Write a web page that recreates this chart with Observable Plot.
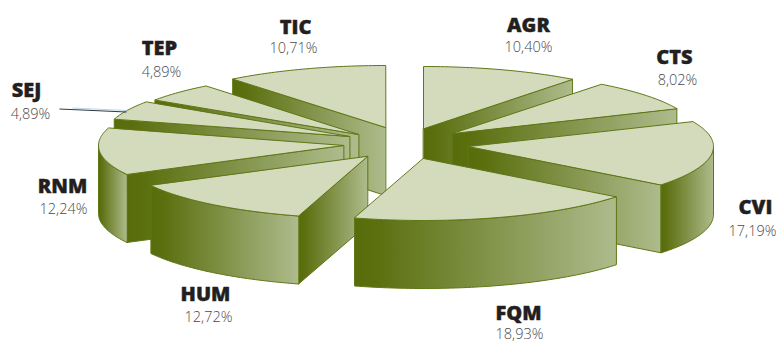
<!DOCTYPE html>
<html>
<head>
<meta charset="utf-8">
<script src="https://cdn.jsdelivr.net/npm/d3@7"></script>
<script src="https://cdn.jsdelivr.net/npm/@observablehq/plot@0.6"></script>
<style>
html,body{margin:0;padding:0;background:#fff}
svg{display:block}
</style>
</head>
<body>
<div id="chart"></div>
<script>
// Data: clockwise from 12 o'clock
const areas  = ["AGR","CTS","CVI","FQM","HUM","RNM","SEJ","TEP","TIC"];
const shares = [10.40, 8.02, 17.19, 18.93, 12.72, 12.24, 4.89, 4.89, 10.71];
const shareLabels = ["10,40%","8,02%","17,19%","18,93%","12,72%","12,24%","4,89%","4,89%","10,71%"];

// Layout (exploded slice centres, label anchors), separate from the data
const apexX  = [423, 452, 468, 423, 367, 343, 349, 358, 385];
const apexY  = [128, 133, 146, 158, 156, 145, 136, 134, 127];
const nameX  = [528, 674, 755, 518, 205, 62, 26, 159, 295];
const nameY  = [25, 57, 207, 313, 294, 186, 90, 48, 27];
const valueX = [528, 677, 752, 519, 208, 63, 30, 161, 293];
const valueY = [47, 80, 231, 334, 317, 209, 114, 72, 48];
const paintOrder = ["TIC","AGR","TEP","CTS","SEJ","CVI","RNM","HUM","FQM"];
const leader = [{x1: 59, y1: 108.5, x2: 126, y2: 111.5}];
const leaderGlow = [{x1: 72, y1: 107.5, x2: 126, y2: 110}];
const rx = 245, ry = 62, depth = 68;

const TOP = "#d4dabc", EDGE = "#5f7715";
const rad = d => d * Math.PI / 180;
const total = 100;

// Slice angles from shares
let acc = 0;
const slices = areas.map((name, i) => {
  const start = acc / total * 360;
  acc += shares[i];
  const end = acc / total * 360;
  return {name, i, start, end, ax: apexX[i], ay: apexY[i]};
});
const rim = (s, a) => ({x: s.ax + rx * Math.sin(rad(a)), y: s.ay - ry * Math.cos(rad(a))});
const down = p => ({x: p.x, y: p.y + depth});
const arc = (s, a0, a1) => {
  const n = Math.max(2, Math.ceil(Math.abs(a1 - a0)));
  return d3.range(n + 1).map(k => rim(s, a0 + (a1 - a0) * k / n));
};
const closed = (pts, fill) => Plot.line(pts, {
  x: "x", y: "y", curve: "linear-closed", fill,
  stroke: EDGE, strokeWidth: 1, strokeLinejoin: "round"
});

const shapes = [];
for (const name of paintOrder) {
  const s = slices[areas.indexOf(name)];
  const apex = {x: s.ax, y: s.ay};
  // the radial wall that faces the viewer: end edge on the right half, start edge on the left
  const wallAngle = s.end <= 180 ? s.end : (s.start >= 180 ? s.start : null);
  if (wallAngle !== null) {
    const p = rim(s, wallAngle);
    shapes.push(closed([apex, p, down(p), down(apex)], "url(#wall)"));
  }
  // outer rim only where it faces front
  const a0 = Math.max(s.start, 90), a1 = Math.min(s.end, 270);
  if (a1 > a0) {
    const outer = arc(s, a0, a1);
    shapes.push(closed([...outer, ...outer.slice().reverse().map(down)], "url(#wall)"));
  }
  shapes.push(closed([apex, ...arc(s, s.start, s.end)], TOP));
}

const plot = Plot.plot({
  width: 777, height: 342,
  margin: 0,
  style: {background: "#fff", overflow: "visible"},
  x: {domain: [0, 777], range: [0, 777], axis: null},
  y: {domain: [0, 342], range: [0, 342], axis: null},
  marks: [
    ...shapes,
    Plot.link(leaderGlow, {x1: "x1", y1: "y1", x2: "x2", y2: "y2", stroke: "#bcd5e6", strokeWidth: 1.2}),
    Plot.link(leader, {x1: "x1", y1: "y1", x2: "x2", y2: "y2", stroke: "#2e3a44", strokeWidth: 1}),
    Plot.text(areas, {
      x: (d, i) => nameX[i], y: (d, i) => nameY[i], text: d => d,
      fontFamily: "Open Sans", fontWeight: 800, fontSize: 20, fill: "#231f20",
      stroke: "#231f20", strokeWidth: 0.4
    }),
    Plot.text(shareLabels, {
      x: (d, i) => valueX[i], y: (d, i) => valueY[i], text: d => d,
      fontFamily: "Open Sans", fontWeight: 300, fontSize: 14.5, fill: "#4a4a4c"
    })
  ]
});

const grad = d3.select(plot).insert("defs", ":first-child")
  .append("linearGradient").attr("id", "wall")
  .attr("x1", 0).attr("x2", 1).attr("y1", 0).attr("y2", 0);
grad.append("stop").attr("offset", 0).attr("stop-color", "#586c0c");
grad.append("stop").attr("offset", 0.08).attr("stop-color", "#5b6f0f");
grad.append("stop").attr("offset", 1).attr("stop-color", "#aebb8c");

document.getElementById("chart").append(plot);
</script>
</body>
</html>
